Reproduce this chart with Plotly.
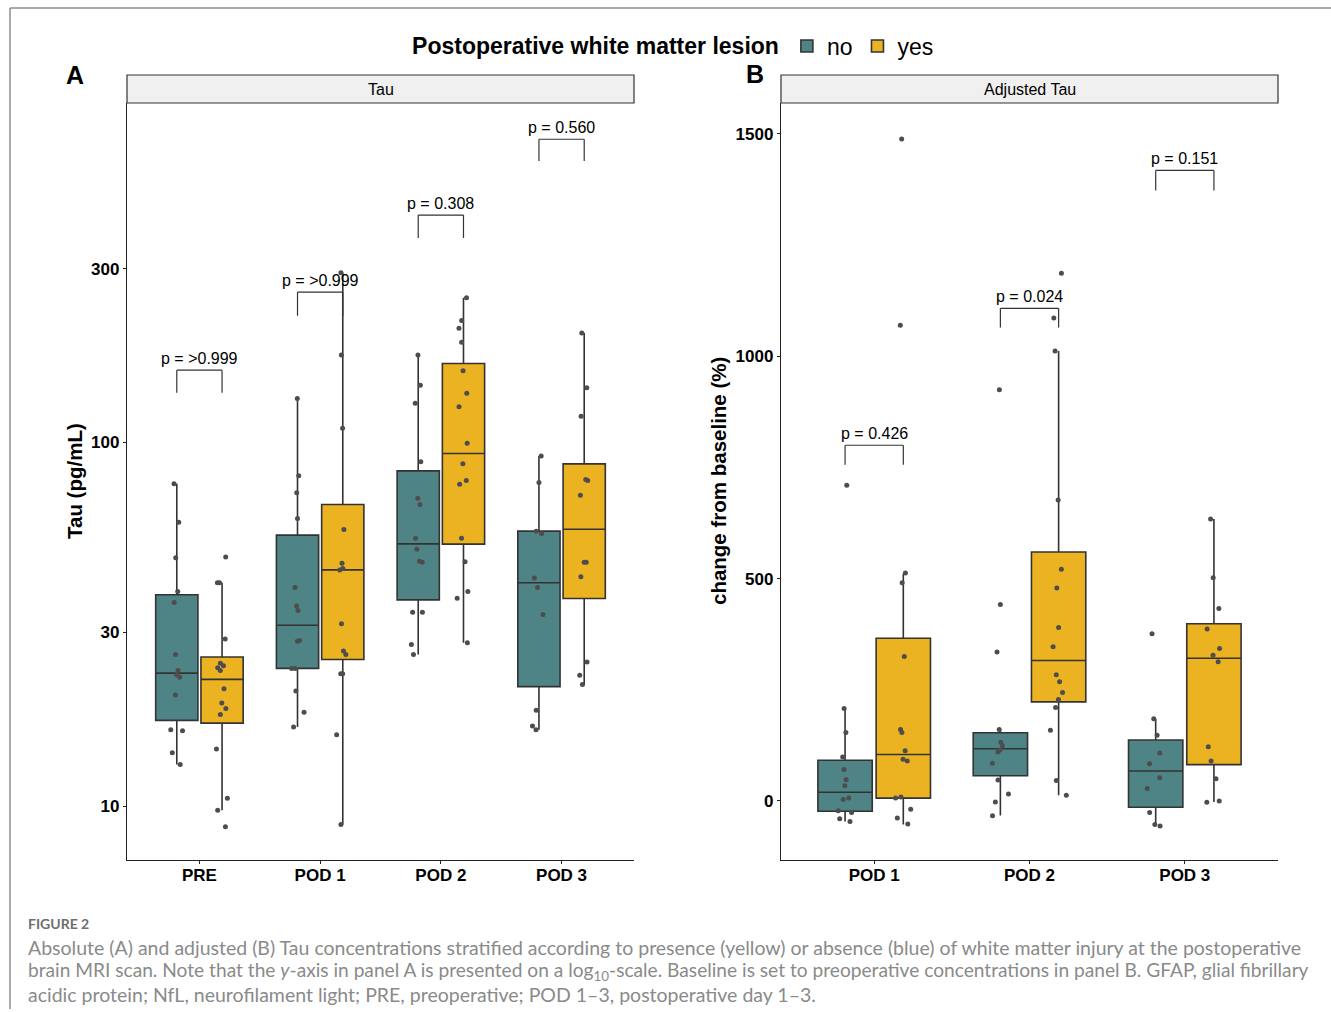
import math
import plotly.graph_objects as go

# ---------------- data ----------------
categories_a = ["PRE", "POD 1", "POD 2", "POD 3"]
categories_b = ["POD 1", "POD 2", "POD 3"]
group_names = ["no", "yes"]

# Panel A: Tau (pg/mL), box statistics per timepoint
a_no_q1 = [17.2, 23.9, 36.9, 21.3]
a_no_median = [23.2, 31.4, 52.6, 41.1]
a_no_q3 = [38.1, 55.6, 83.5, 57.0]
a_no_low = [13.0, 16.5, 26.1, 16.2]
a_no_up = [77.0, 132, 174, 91.8]

a_yes_q1 = [16.9, 25.3, 52.5, 37.2]
a_yes_median = [22.3, 44.6, 93.2, 57.7]
a_yes_q3 = [25.7, 67.5, 164.8, 87.3]
a_yes_low = [9.73, 8.9, 28.1, 21.5]
a_yes_up = [41.1, 293, 250, 200]

# Panel A individual observations
a_pre_no = [77.0, 60.3, 48.2, 38.9, 36.3, 26.1, 23.6, 23.0, 22.6, 20.2, 16.2, 16.1, 14.0, 13.0]
a_pre_yes = [48.4, 41.1, 41.1, 28.8, 24.7, 24.3, 24.0, 23.6, 21.0, 19.2, 18.55, 17.85, 14.35, 10.5, 9.73, 8.77]
a_pod1_no = [132, 81.0, 72.7, 61.8, 39.9, 35.5, 34.5, 28.5, 28.4, 23.9, 23.9, 20.7, 18.1, 16.5]
a_pod1_yes = [293, 174, 109.4, 57.6, 46.5, 45.0, 44.6, 31.7, 26.7, 26.1, 23.1, 23.1, 15.7, 8.9]
a_pod2_no = [174, 143.5, 128.2, 88.4, 70.2, 67.5, 54.5, 50.8, 47.1, 46.8, 34.1, 34.1, 27.8, 26.1]
a_pod2_yes = [250, 216.5, 206, 188.6, 157.5, 136.5, 125.3, 99.5, 87.3, 78.6, 76.7, 54.5, 47.0, 38.9, 37.3, 28.1]
a_pod3_no = [91.8, 77.6, 57.0, 56.2, 42.4, 39.9, 33.6, 18.35, 16.6, 16.2]
a_pod3_yes = [200, 141.3, 118, 79.0, 78.6, 71.5, 46.8, 46.8, 42.7, 24.9, 22.9, 21.6]

# Panel B: change from baseline (%), box statistics
b_no_q1 = [-22.9, 56.6, -14]
b_no_median = [19.6, 117.6, 67.5]
b_no_q3 = [91.5, 153.6, 137]
b_no_low = [-46, -32.7, -55.6]
b_no_up = [208, 161, 185]

b_yes_q1 = [6.5, 223, 81.7]
b_yes_median = [104.6, 316, 321]
b_yes_q3 = [366, 560, 398.7]
b_yes_low = [-53, 13, -2]
b_yes_up = [511, 1012, 634]

# Panel B individual observations
b_pod1_no = [710, 208, 154, 99, 71, 48, 34, 6.5, 3.3, -22, -26, -40, -46]
b_pod1_yes = [1489, 1070, 513, 491, 325, 161, 154, 113, 94, 90, 8.7, 6.5, -18.5, -38, -52]
b_pod2_no = [925, 442, 335, 161, 132, 124, 115, 110, 85, 47, 16, -2, -33]
b_pod2_yes = [1187, 1086, 1012, 677, 521, 479, 390, 347, 284, 268, 244, 228, 210, 159, 46, 13]
b_pod3_no = [376, 185, 148, 108, 84, 52, 28, -26, -56, -53]
b_pod3_yes = [634, 502, 433, 387, 343, 328, 313, 122, 90, 50, 0, -3]

# p-values and bracket levels (top, leg bottom) in data units
a_pvalues = ["p = >0.999", "p = >0.999", "p = 0.308", "p = 0.560"]
a_bracket_top = [158, 259, 422, 682]
a_bracket_bottom = [137, 223, 365, 594]
b_pvalues = ["p = 0.426", "p = 0.024", "p = 0.151"]
b_bracket_top = [800, 1108, 1418]
b_bracket_bottom = [756, 1065, 1373]

a_yticks = [10, 30, 100, 300]
b_yticks = [0, 500, 1000, 1500]

# ---------------- style ----------------
W, H = 1331, 1012
COL = {"no": "#4F8487", "yes": "#EBB321"}
EDGE = "#333333"
PT = "#4D4D4D"
FONT = "Liberation Sans"


def px(x):
    return x / W


def py(y):
    return 1 - y / H


fig = go.Figure()

panels = [
    dict(xa="x", ya="y", cats=categories_a,
         stats={"no": (a_no_q1, a_no_median, a_no_q3, a_no_low, a_no_up),
                "yes": (a_yes_q1, a_yes_median, a_yes_q3, a_yes_low, a_yes_up)},
         pts={"no": [a_pre_no, a_pod1_no, a_pod2_no, a_pod3_no],
              "yes": [a_pre_yes, a_pod1_yes, a_pod2_yes, a_pod3_yes]}),
    dict(xa="x2", ya="y2", cats=categories_b,
         stats={"no": (b_no_q1, b_no_median, b_no_q3, b_no_low, b_no_up),
                "yes": (b_yes_q1, b_yes_median, b_yes_q3, b_yes_low, b_yes_up)},
         pts={"no": [b_pod1_no, b_pod2_no, b_pod3_no],
              "yes": [b_pod1_yes, b_pod2_yes, b_pod3_yes]}),
]

for pi, p in enumerate(panels):
    for g in group_names:
        q1, med, q3, lo, up = p["stats"][g]
        fig.add_trace(go.Box(
            x=p["cats"], q1=q1, median=med, q3=q3, lowerfence=lo, upperfence=up,
            name=g, legendgroup=g, showlegend=(pi == 0), offsetgroup=g,
            fillcolor=COL[g], line=dict(color=EDGE, width=1.6), whiskerwidth=0,
            boxpoints=False, xaxis=p["xa"], yaxis=p["ya"],
        ))
    for g in group_names:
        xs, ys = [], []
        for c, vals in zip(p["cats"], p["pts"][g]):
            xs += [c] * len(vals)
            ys += vals
        fig.add_trace(go.Box(
            x=xs, y=ys, name=g, legendgroup=g, showlegend=False, offsetgroup=g,
            boxpoints="all", jitter=0.35, pointpos=0,
            fillcolor="rgba(0,0,0,0)", line=dict(color="rgba(0,0,0,0)", width=0),
            marker=dict(color=PT, size=5), xaxis=p["xa"], yaxis=p["ya"],
        ))

ydom = [py(860), py(103)]
axis_common = dict(showline=True, linecolor="#222222", linewidth=1.3, ticks="outside",
                   ticklen=3, tickwidth=1.3, tickcolor="#222222", showgrid=False, zeroline=False,
                   tickfont=dict(family=FONT, size=17, color="black", weight="bold"))

fig.update_layout(
    width=W, height=H, autosize=False,
    margin=dict(l=0, r=0, t=0, b=0),
    paper_bgcolor="white", plot_bgcolor="white",
    boxmode="group", boxgap=0.25, boxgroupgap=0.067,
    font=dict(family=FONT, color="black"),
    xaxis=dict(domain=[px(127), px(634)], anchor="y", type="category",
               categoryorder="array", categoryarray=categories_a,
               range=[-0.6, 3.6], ticklabelstandoff=-4, **axis_common),
    yaxis=dict(domain=ydom, anchor="x", type="log",
               range=[1 - 54 / 363.6, 1 + 703 / 363.6],
               tickvals=a_yticks, ticktext=[str(v) for v in a_yticks], **axis_common),
    xaxis2=dict(domain=[px(781), px(1278)], anchor="y2", type="category",
                categoryorder="array", categoryarray=categories_b,
                range=[-0.6, 2.6], ticklabelstandoff=-4, **axis_common),
    yaxis2=dict(domain=ydom, anchor="x2", range=[-132.7, 1569.7],
                tickvals=b_yticks, ticktext=[str(v) for v in b_yticks], **axis_common),
    legend=dict(orientation="h", x=0.5068, xanchor="center", y=py(46), yanchor="middle",
                title=dict(text="<b>Postoperative white matter lesion</b>",
                           font=dict(family=FONT, size=23)),
                font=dict(family=FONT, size=23), bgcolor="rgba(0,0,0,0)"),
)

shapes = []
annotations = []

# strips
for (x0, x1, label) in [(127, 634, "Tau"), (781, 1278, "Adjusted Tau")]:
    shapes.append(dict(type="rect", xref="paper", yref="paper", x0=px(x0), x1=px(x1),
                       y0=py(103), y1=py(75), fillcolor="#F0F0F0",
                       line=dict(color="#333333", width=1.2)))
    annotations.append(dict(xref="paper", yref="paper", x=px((x0 + x1) / 2), y=py(89),
                            text=label, showarrow=False, xanchor="center", yanchor="middle",
                            font=dict(family=FONT, size=16, color="black")))

# brackets + p labels
off = 0.1875
for (xr, yr, pv, tops, bots, is_log) in [
    ("x", "y", a_pvalues, a_bracket_top, a_bracket_bottom, True),
    ("x2", "y2", b_pvalues, b_bracket_top, b_bracket_bottom, False),
]:
    for i, (t, top, bot) in enumerate(zip(pv, tops, bots)):
        ln = dict(color="#333333", width=1.2)
        shapes.append(dict(type="line", xref=xr, yref=yr, x0=i - off, x1=i - off, y0=bot, y1=top, line=ln))
        shapes.append(dict(type="line", xref=xr, yref=yr, x0=i - off, x1=i + off, y0=top, y1=top, line=ln))
        shapes.append(dict(type="line", xref=xr, yref=yr, x0=i + off, x1=i + off, y0=bot, y1=top, line=ln))
        annotations.append(dict(xref=xr, yref=yr, x=i, y=math.log10(top) if is_log else top,
                                text=t, showarrow=False, xanchor="center", yanchor="bottom",
                                yshift=1, font=dict(family=FONT, size=16, color="black")))

# panel letters
for (lx, ly, letter) in [(75, 75, "A"), (755, 74, "B")]:
    annotations.append(dict(xref="paper", yref="paper", x=px(lx), y=py(ly), text="<b>%s</b>" % letter,
                            xanchor="center", yanchor="middle", showarrow=False,
                            font=dict(family=FONT, size=25, color="black")))

# axis titles
annotations.append(dict(xref="paper", yref="paper", x=px(74), y=py(481), text="<b>Tau (pg/mL)</b>",
                        textangle=-90, xanchor="center", yanchor="middle", showarrow=False,
                        font=dict(family=FONT, size=20.5, color="black")))
annotations.append(dict(xref="paper", yref="paper", x=px(718), y=py(481),
                        text="<b>change from baseline (%)</b>", xanchor="center", yanchor="middle",
                        textangle=-90, showarrow=False, font=dict(family=FONT, size=20.5, color="black")))

# frame lines of the figure box
shapes.append(dict(type="line", xref="paper", yref="paper", x0=px(10), x1=1, y0=py(8), y1=py(8),
                   line=dict(color="#8C8C8C", width=1.5)))
shapes.append(dict(type="line", xref="paper", yref="paper", x0=px(10), x1=px(10), y0=py(8), y1=py(1009),
                   line=dict(color="#8C8C8C", width=1.5)))

# caption
CAP = "Lato"
annotations.append(dict(xref="paper", yref="paper", x=px(26), y=py(923), xanchor="left",
                        yanchor="middle", text="FIGURE 2", showarrow=False,
                        font=dict(family=CAP, size=14, color="#6E6E6E", weight="bold")))
caption_lines = [
    "Absolute (A) and adjusted (B) Tau concentrations stratified according to presence (yellow) or absence (blue) of white matter injury at the postoperative",
    "brain MRI scan. Note that the <i>y</i>-axis in panel A is presented on a log<sub>10</sub>-scale. Baseline is set to preoperative concentrations in panel B. GFAP, glial fibrillary",
    "acidic protein; NfL, neurofilament light; PRE, preoperative; POD 1–3, postoperative day 1–3.",
]
caption_sizes = [19.5, 19.15, 19.5]
for line, yy, sz in zip(caption_lines, [947, 971, 994], caption_sizes):
    annotations.append(dict(xref="paper", yref="paper", x=px(26), y=py(yy), xanchor="left",
                            yanchor="middle", text=line, showarrow=False,
                            font=dict(family=CAP, size=sz, color="#8A8A8A")))

fig.update_layout(shapes=shapes, annotations=annotations)
fig.write_html("out.html", config={"displayModeBar": False},
               post_script="document.body.style.margin='0px';document.body.style.overflow='hidden';")
